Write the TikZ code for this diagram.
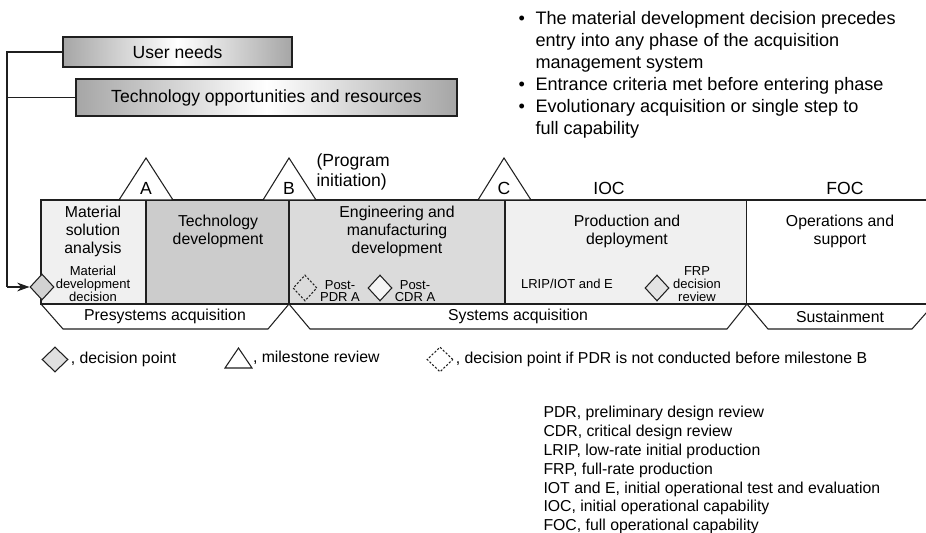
\documentclass[tikz,border=0pt]{standalone}
\usepackage{fontspec}
\setmainfont{Liberation Sans}
\usetikzlibrary{shapes.geometric, arrows.meta}

\definecolor{msafill}{gray}{0.94}
\definecolor{tdfill}{gray}{0.80}
\definecolor{emdfill}{gray}{0.86}
\definecolor{pdfill}{gray}{0.94}
\definecolor{ink}{gray}{0.12}

\begin{document}
\begin{tikzpicture}[x=0.02cm, y=-0.02cm, line width=0.6pt, draw=ink,
    need/.style={draw, line width=0.9pt, left color=gray!70, right color=gray!70, middle color=white, inner sep=0pt, font=\fontsize{10}{12}\selectfont},
    panel/.style={draw, minimum height=2.08cm, inner sep=0pt},
    title/.style={align=center, inner sep=0pt, font=\fontsize{9}{10.2}\selectfont},
    small/.style={align=center, inner sep=0pt, font=\fontsize{7.4}{7.2}\selectfont},
    big/.style={inner sep=0pt, font=\fontsize{10}{11.5}\selectfont},
    decision/.style={diamond, draw, inner sep=0pt, minimum width=0.48cm, minimum height=0.52cm},
    maybe/.style={decision, dash pattern=on 1.2pt off 1pt},
    mstone/.style={draw, fill=white},
    period/.style={draw}]
    \useasboundingbox (0,0) rectangle (926,533);

    % inputs
    \node [need, minimum width=4.58cm, minimum height=0.6cm] (un) at (177.5 , 52) {User needs};
    \node [need, minimum width=7.62cm, minimum height=0.74cm] (tor) at (266.5 , 97.5) {Technology opportunities and resources};

    % phases
    \node [panel, fill=msafill, minimum width=2.1cm] (msa) at (93.5 , 252) {};
    \node [panel, fill=tdfill, minimum width=2.86cm] (td) at (217.5 , 252) {};
    \node [panel, fill=emdfill, minimum width=4.32cm] (emd) at (397 , 252) {};
    \node [panel, fill=pdfill, minimum width=4.84cm] (pd) at (626 , 252) {};
    \node [panel, fill=white, minimum width=3.9cm] (os) at (844 , 252) {};

    \node [title] (msaT) at (93 , 231) {Material\\solution\\analysis};
    \node [title] (tdT) at (218 , 231.5) {Technology\\development};
    \node [title] (emdT) at (397 , 231) {Engineering and\\manufacturing\\development};
    \node [title] (pdT) at (627 , 231.5) {Production and\\deployment};
    \node [title] (osT) at (840 , 231.5) {Operations and\\support};

    % milestones
    \draw [mstone] (119 , 200) -- (146 , 158) -- (173 , 200) -- cycle;
    \draw [mstone] (263 , 200) -- (289 , 158) -- (316 , 200) -- cycle;
    \draw [mstone] (478 , 200) -- (504 , 158) -- (531 , 200) -- cycle;
    \node [big] (msA) at (146 , 188) {A};
    \node [big] (msB) at (289 , 188) {B};
    \node [big] (msC) at (504 , 188) {C};
    \node [big, anchor=west, align=left] (prog) at (316 , 172) {(Program\\initiation)};
    \node [big] (ioc) at (609 , 188) {IOC};
    \node [big] (foc) at (845 , 188) {FOC};

    % decisions
    \node [decision, fill=gray!35] (mdd) at (42 , 287) {};
    \node [small] (mddT) at (93 , 284) {Material\\development\\decision};
    \node [maybe, fill=emdfill] (pdr) at (305 , 288) {};
    \node [small] (pdrT) at (340 , 291) {Post-\\PDR A};
    \node [decision, fill=gray!8] (cdr) at (380 , 288) {};
    \node [small] (cdrT) at (415 , 291) {Post-\\CDR A};
    \node [small] (lrip) at (567 , 284) {LRIP/IOT and E};
    \node [decision, fill=gray!22] (frp) at (657 , 288) {};
    \node [small] (frpT) at (697 , 284) {FRP\\decision\\review};

    \coordinate (bus) at (7 , 287);
    \draw (un.west) -| (bus);
    \draw (tor.west) -| (bus);
    \draw [-{Stealth[length=7pt, width=5pt]}] (bus) -- (mdd.west);

    % acquisition periods
    \draw [period] (41 , 304) -- (63 , 329) -- (268 , 329) -- (289 , 304);
    \draw [period] (289 , 304) -- (310 , 329) -- (727 , 329) -- (747 , 304);
    \draw [period] (747 , 304) -- (768 , 329) -- (912 , 329) -- (934 , 304);
    \node [title] (preT) at (165 , 316.5) {Presystems acquisition};
    \node [title] (sysT) at (518 , 316.5) {Systems acquisition};
    \node [title] (susT) at (840 , 316.5) {Sustainment};

    % legend
    \node [decision, fill=gray!25, minimum width=0.52cm, minimum height=0.5cm] (lgD) at (55 , 359.5) {};
    \node [title, anchor=west] (lgDT) at ([xshift=1pt]lgD.east) {, decision point};
    \draw [mstone] (225 , 368) -- (238.5 , 348) -- (252 , 368) -- cycle;
    \node [title, anchor=west] (lgMT) at (252.5 , 358) {, milestone review};
    \node [maybe, fill=white, minimum width=0.52cm, minimum height=0.5cm] (lgP) at (440 , 359.5) {};
    \node [title, anchor=west] (lgPT) at ([xshift=1pt]lgP.east) {, decision point if PDR is not conducted before milestone B};

    % notes
    \node [big, anchor=north west, align=left, font=\fontsize{10.3}{12.5}\selectfont] (notes) at (535 , 11)
      {\llap{•\hspace{6pt}}The material development decision precedes\\entry into any phase of the acquisition\\management system\\
       \llap{•\hspace{6pt}}Entrance criteria met before entering phase\\
       \llap{•\hspace{6pt}}Evolutionary acquisition or single step to\\full capability};
    \node [title, anchor=north west, align=left, font=\fontsize{9}{10.7}\selectfont] (abbr) at (543 , 406)
      {PDR, preliminary design review\\CDR, critical design review\\LRIP, low-rate initial production\\FRP, full-rate production\\IOT and E, initial operational test and evaluation\\IOC, initial operational capability\\FOC, full operational capability};
\end{tikzpicture}
\end{document}
